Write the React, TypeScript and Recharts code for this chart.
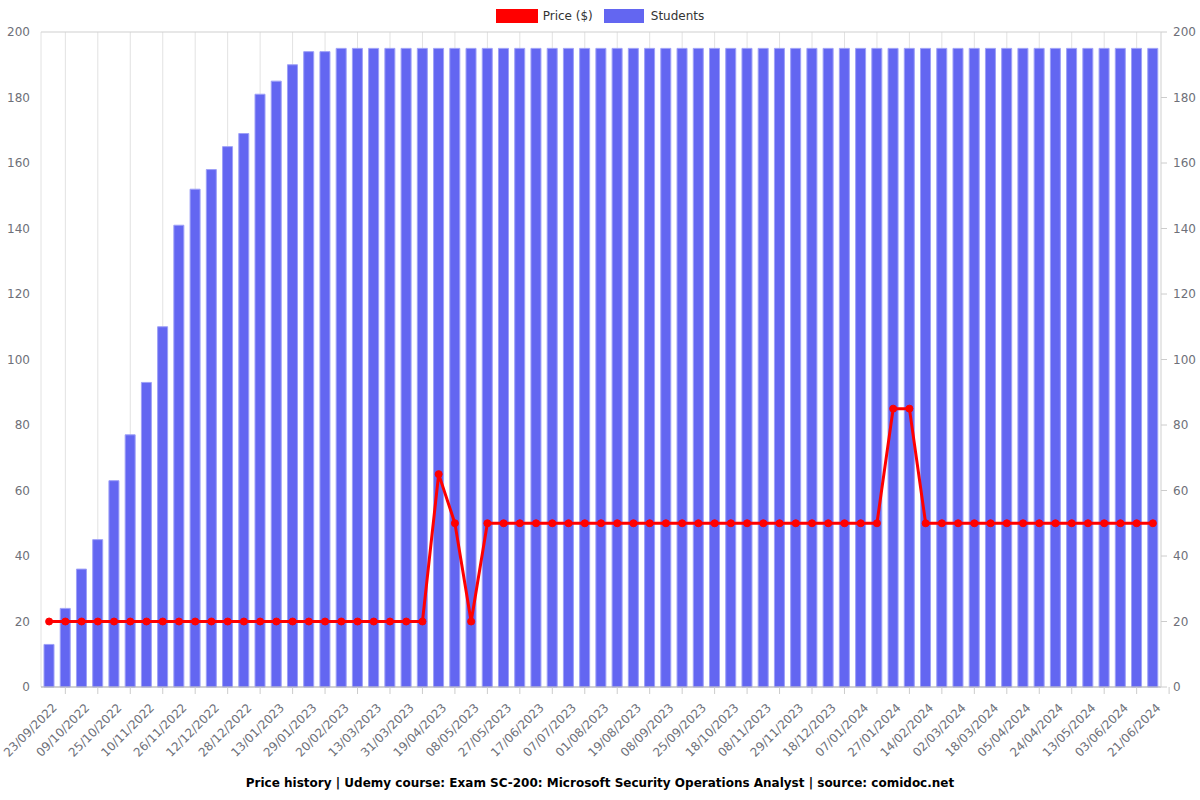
import React from "react";
import { ComposedChart, Bar, Line, XAxis, YAxis, CartesianGrid } from "recharts";

const dates = [
  "23/09/2022", "01/10/2022", "09/10/2022", "17/10/2022", "25/10/2022", "02/11/2022",
  "10/11/2022", "18/11/2022", "26/11/2022", "04/12/2022", "12/12/2022", "20/12/2022",
  "28/12/2022", "05/01/2023", "13/01/2023", "21/01/2023", "29/01/2023", "09/02/2023",
  "20/02/2023", "02/03/2023", "13/03/2023", "22/03/2023", "31/03/2023", "09/04/2023",
  "19/04/2023", "28/04/2023", "08/05/2023", "17/05/2023", "27/05/2023", "06/06/2023",
  "17/06/2023", "27/06/2023", "07/07/2023", "19/07/2023", "01/08/2023", "10/08/2023",
  "19/08/2023", "29/08/2023", "08/09/2023", "16/09/2023", "25/09/2023", "06/10/2023",
  "18/10/2023", "28/10/2023", "08/11/2023", "18/11/2023", "29/11/2023", "08/12/2023",
  "18/12/2023", "28/12/2023", "07/01/2024", "17/01/2024", "27/01/2024", "05/02/2024",
  "14/02/2024", "22/02/2024", "02/03/2024", "10/03/2024", "18/03/2024", "27/03/2024",
  "05/04/2024", "14/04/2024", "24/04/2024", "03/05/2024", "13/05/2024", "23/05/2024",
  "03/06/2024", "12/06/2024", "21/06/2024",
];

const students = [
  13, 24, 36, 45, 63, 77, 93, 110, 141, 152, 158, 165, 169, 181, 185, 190, 194, 194,
  195, 195, 195, 195, 195, 195, 195, 195, 195, 195, 195, 195, 195, 195, 195, 195, 195, 195,
  195, 195, 195, 195, 195, 195, 195, 195, 195, 195, 195, 195, 195, 195, 195, 195, 195, 195,
  195, 195, 195, 195, 195, 195, 195, 195, 195, 195, 195, 195, 195, 195, 195,
];

const price = [
  20, 20, 20, 20, 20, 20, 20, 20, 20, 20, 20, 20, 20, 20, 20, 20, 20, 20,
  20, 20, 20, 20, 20, 20, 65, 50, 20, 50, 50, 50, 50, 50, 50, 50, 50, 50,
  50, 50, 50, 50, 50, 50, 50, 50, 50, 50, 50, 50, 50, 50, 50, 50, 85, 85,
  50, 50, 50, 50, 50, 50, 50, 50, 50, 50, 50, 50, 50, 50, 50,
];

const yTicks = [0, 20, 40, 60, 80, 100, 120, 140, 160, 180, 200];

const data = dates.map((d, i) => ({ date: d, students: students[i], price: price[i] }));

const FONT = "DejaVu Sans, sans-serif";
const LABEL = "#6e7079";
const PLOT_W = 1120;
const BAND = PLOT_W / dates.length;

function XTick(props: any) {
  const { x, y, payload } = props;
  const tx = x + 6;
  const ty = y + 19;
  return (
    <g>
      <line x1={x + BAND} x2={x + BAND} y1={y} y2={y + 7} stroke="#ccc" />
      <text
        x={tx}
        y={ty}
        transform={`rotate(-45, ${tx}, ${ty})`}
        textAnchor="end"
        dominantBaseline="middle"
        fontSize={12}
        fontFamily={FONT}
        fill={LABEL}
      >
        {payload.value}
      </text>
    </g>
  );
}

function vGrid({ offset }: any) {
  const res = [offset.left];
  const band = offset.width / dates.length;
  for (let i = 1; i < dates.length; i += 2) res.push(offset.left + (i + 0.5) * band);
  res.push(offset.left + offset.width);
  return res;
}

export default function App() {
  return (
    <div style={{ position: "absolute", left: 0, top: 0, width: 1200, height: 800, background: "#fff", fontFamily: FONT }}>
      <div style={{ position: "absolute", top: 9, left: 0, width: 1200, display: "flex", justifyContent: "center", alignItems: "center", fontSize: 12, color: "#333" }}>
        <span style={{ display: "inline-block", width: 42, height: 14, background: "#ff0000", marginRight: 5 }} />
        <span style={{ marginRight: 11 }}>Price ($)</span>
        <span style={{ display: "inline-block", width: 40, height: 14, background: "#6366f1", marginRight: 7 }} />
        <span>Students</span>
      </div>
      <ComposedChart width={1200} height={800} data={data} margin={{ top: 32, right: 0, bottom: 0, left: 0 }}>
        <CartesianGrid stroke="#e2e2e2" horizontal={false} vertical={true} verticalCoordinatesGenerator={vGrid} />
        <CartesianGrid stroke="#cfcfcf" horizontal={true} vertical={false} />
        <XAxis
          dataKey="date"
          interval={1}
          height={113}
          tickSize={0}
          tickMargin={0}
          tickLine={false}
          axisLine={{ stroke: "#bbb" }}
          tick={<XTick />}
        />
        <YAxis
          yAxisId="left"
          orientation="left"
          width={41}
          domain={[0, 200]}
          ticks={yTicks}
          tickLine={false}
          axisLine={false}
          tickMargin={5}
          tick={{ fontSize: 12, fill: LABEL, fontFamily: FONT }}
        />
        <YAxis
          yAxisId="right"
          orientation="right"
          width={39}
          domain={[0, 200]}
          ticks={yTicks}
          tickLine={{ stroke: "#ccc" }}
          axisLine={{ stroke: "#ddd" }}
          tickMargin={6}
          tick={{ fontSize: 12, fill: LABEL, fontFamily: FONT }}
        />
        <Bar
          yAxisId="right"
          dataKey="students"
          name="Students"
          fill="#6366f1"
          stroke="#9ea0f7"
          strokeWidth={1}
          barSize={10}
          isAnimationActive={false}
        />
        <Line
          yAxisId="left"
          dataKey="price"
          name="Price ($)"
          type="linear"
          stroke="#ff0000"
          strokeWidth={3}
          dot={{ r: 3.5, fill: "#ff0000", stroke: "#ff0000", strokeWidth: 1 }}
          isAnimationActive={false}
        />
      </ComposedChart>
      <div style={{ position: "absolute", top: 776, left: 0, width: 1200, textAlign: "center", fontSize: 12, fontWeight: "bold", color: "#000" }}>
        Price history | Udemy course: Exam SC-200: Microsoft Security Operations Analyst | source: comidoc.net
      </div>
    </div>
  );
}
